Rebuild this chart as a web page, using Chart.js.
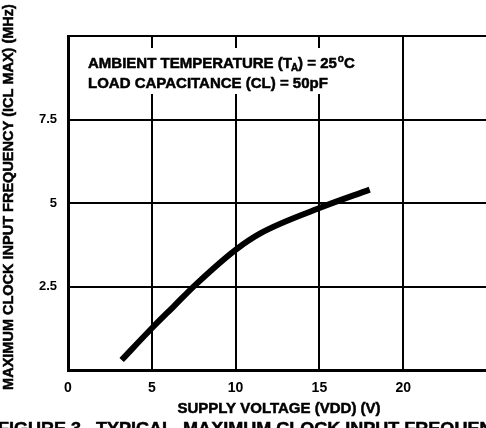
<!DOCTYPE html>
<html>
<head>
<meta charset="utf-8">
<script src="https://cdn.jsdelivr.net/npm/chart.js@4"></script>
<style>
html, body { margin: 0; padding: 0; background: #fff; overflow: hidden; }
#wrap { width: 497px; height: 428px; }
</style>
</head>
<body>
<div id="wrap"><canvas id="c"></canvas></div>
<script>
// supply voltage (V) vs max clock frequency (MHz)
const voltage = [3.2, 5, 6.3, 7.6, 10, 11.5, 15, 18];
const freq = [0.3, 1.25, 1.9, 2.55, 3.6, 4.1, 4.85, 5.4];
const xLabels = [0, 5, 10, 15, 20];
const yLabels = [2.5, 5, 7.5];

const FONT = "'Liberation Sans', Arial, sans-serif";

function heavyText(ctx, s, x, y) {
  ctx.fillText(s, x, y);
  ctx.strokeText(s, x, y);
}

// notes box, axis titles and the cut-off caption
const textPlugin = {
  id: 'texts',
  beforeDatasetsDraw: (chart) => {
    const { ctx } = chart;
    ctx.save();
    ctx.fillStyle = '#fff';
    ctx.fillRect(72, 48, 300, 46);
    ctx.fillStyle = '#000';
    ctx.strokeStyle = '#000';
    ctx.lineWidth = 0.5;
    ctx.textBaseline = 'alphabetic';
    ctx.font = 'bold 15px ' + FONT;
    let x = 88;
    const y1 = 68;
    let s = 'AMBIENT TEMPERATURE (T';
    heavyText(ctx, s, x, y1); x += ctx.measureText(s).width;
    ctx.font = 'bold 10px ' + FONT;
    heavyText(ctx, 'A', x - 1, y1 + 3); x += ctx.measureText('A').width - 1;
    ctx.font = 'bold 15px ' + FONT;
    s = ') = 25';
    heavyText(ctx, s, x, y1); x += ctx.measureText(s).width;
    ctx.font = 'bold 10px ' + FONT;
    heavyText(ctx, 'o', x + 1, y1 - 6); x += ctx.measureText('o').width + 1;
    ctx.font = 'bold 15px ' + FONT;
    heavyText(ctx, 'C', x, y1);
    heavyText(ctx, 'LOAD CAPACITANCE (CL) = 50pF', 88, 88);
    ctx.restore();
  },
  afterDraw: (chart) => {
    const { ctx } = chart;
    ctx.save();
    ctx.fillStyle = '#000';
    ctx.strokeStyle = '#000';
    ctx.lineWidth = 0.5;
    ctx.font = 'bold 15px ' + FONT;
    ctx.textAlign = 'center';
    ctx.textBaseline = 'middle';
    heavyText(ctx, 'SUPPLY VOLTAGE (VDD) (V)', 279, 409);
    ctx.textAlign = 'left';
    ctx.textBaseline = 'top';
    ctx.font = 'bold 17px ' + FONT;
    ctx.save();
    ctx.scale(1.06, 1);
    heavyText(ctx, 'FIGURE 3.  TYPICAL  MAXIMUM CLOCK INPUT FREQUENCY', -2, 421);
    ctx.restore();
    ctx.translate(9, 197);
    ctx.rotate(-Math.PI / 2);
    ctx.textAlign = 'center';
    ctx.textBaseline = 'middle';
    ctx.font = 'bold 14.5px ' + FONT;
    heavyText(ctx, 'MAXIMUM CLOCK INPUT FREQUENCY (ICL MAX) (MHz)', 0, 0);
    ctx.restore();
  }
};

new Chart(document.getElementById('c'), {
  type: 'line',
  data: {
    datasets: [{
      data: voltage.map((v, i) => ({ x: v, y: freq[i] })),
      borderColor: '#000',
      borderWidth: 6,
      borderCapStyle: 'butt',
      pointRadius: 0,
      cubicInterpolationMode: 'monotone',
      fill: false
    }]
  },
  options: {
    responsive: true,
    maintainAspectRatio: false,
    animation: false,
    layout: { padding: { top: 36, right: 0, left: 0, bottom: 0 } },
    plugins: { legend: { display: false }, tooltip: { enabled: false } },
    scales: {
      x: {
        type: 'linear',
        min: 0, max: 25,
        afterFit: (s) => { s.height = 58; },
        afterBuildTicks: (s) => { s.ticks = [0, 5, 10, 15, 20, 25].map(v => ({ value: v })); },
        border: { color: '#000', width: 3 },
        grid: { color: '#000', lineWidth: 2, drawTicks: false },
        ticks: {
          color: '#000',
          padding: 10,
          maxRotation: 0,
          font: { family: FONT, size: 14, weight: 'bold' },
          callback: (v) => xLabels.includes(v) ? String(v) : ''
        }
      },
      y: {
        min: 0, max: 10,
        afterFit: (s) => { s.width = 68; },
        afterBuildTicks: (s) => { s.ticks = [0, 2.5, 5, 7.5, 10].map(v => ({ value: v })); },
        border: { color: '#000', width: 3 },
        grid: { color: '#000', lineWidth: 2, drawTicks: false },
        ticks: {
          color: '#000',
          padding: 11,
          font: { family: FONT, size: 13, weight: 'bold' },
          callback: (v) => yLabels.includes(v) ? String(v) : ''
        }
      }
    }
  },
  plugins: [textPlugin]
});
</script>
</body>
</html>
